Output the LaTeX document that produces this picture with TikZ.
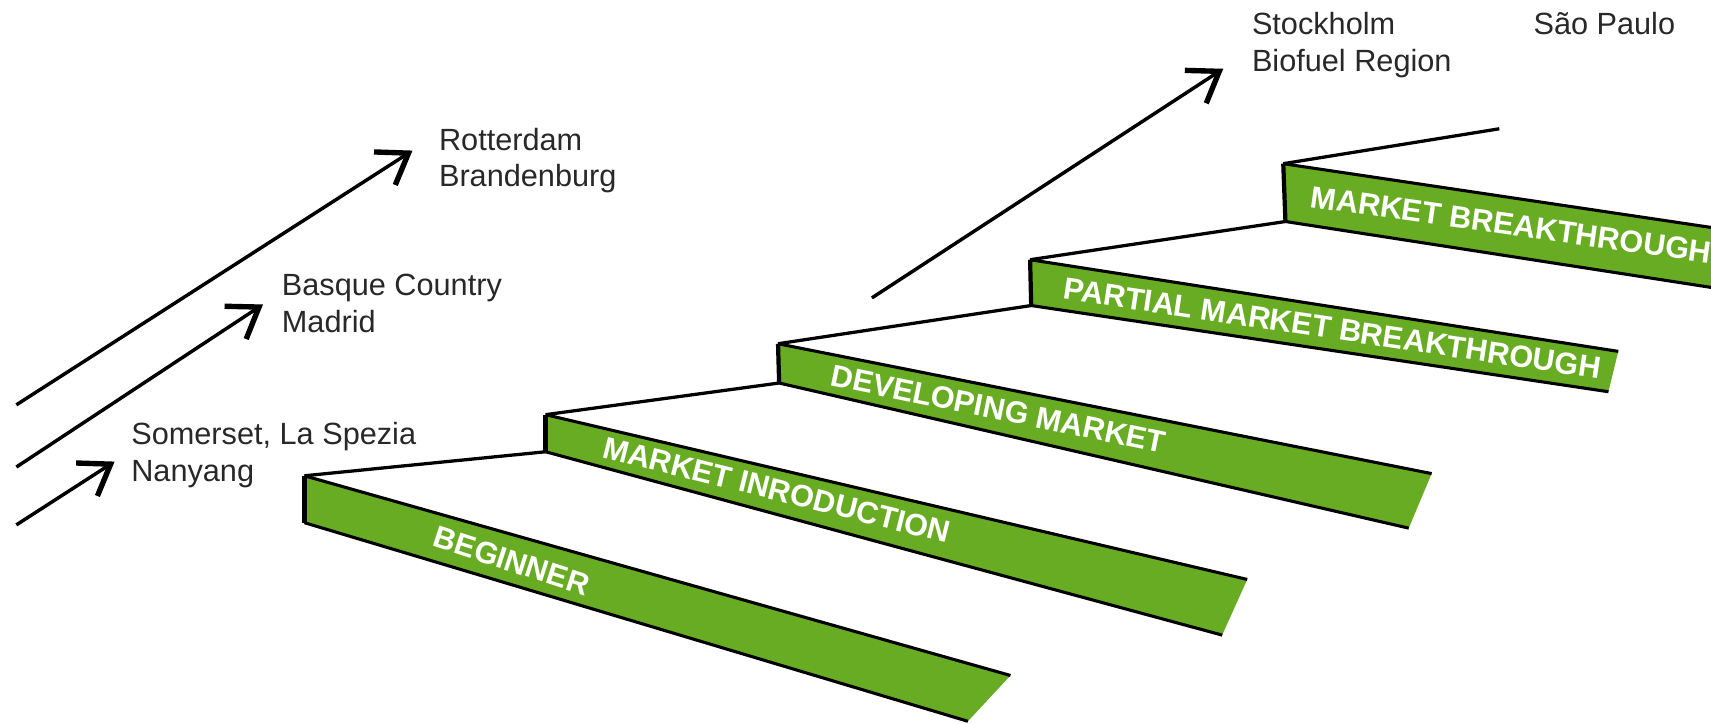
\documentclass[tikz,border=0pt]{standalone}
\usepackage{fontspec}
\setmainfont{Liberation Sans}
\usepackage{tikz}
\usetikzlibrary{arrows.meta}
\definecolor{stepgreen}{RGB}{104,172,36}
\definecolor{placegrey}{RGB}{40,40,40}

\begin{document}
\begin{tikzpicture}[x=0.2mm,y=-0.2mm,
  band/.style={fill=stepgreen},
  edge/.style={line width=1.6pt,black},
  riser/.style={line width=2.2pt,black},
  tread/.style={line width=1.7pt,black},
  steptext/.style={text=white,font=\fontsize{16}{19}\selectfont\bfseries,inner sep=0pt},
  place/.style={text=placegrey,font=\fontsize{16}{19}\selectfont,align=left,anchor=north west,inner sep=0pt},
  arr/.style={line width=1.8pt,-{Straight Barb[length=5.2mm,width=7.2mm,line width=2.8pt]}}]
\useasboundingbox (0,0) rectangle (1568,663);

% corners of the steps
\coordinate (t1) at (279,436);  \coordinate (b1) at (279,479);
\coordinate (tr1) at (926,619); \coordinate (br1) at (887,661);
\coordinate (t2) at (500,380);  \coordinate (b2) at (500,414);
\coordinate (tr2) at (1143,531); \coordinate (br2) at (1120,582);
\coordinate (t3) at (713,315);  \coordinate (b3) at (714,351);
\coordinate (tr3) at (1312,434); \coordinate (br3) at (1291,484);
\coordinate (t4) at (944,238);  \coordinate (b4) at (945,280);
\coordinate (tr4) at (1483,322); \coordinate (br4) at (1474,359);
\coordinate (t5) at (1176,150); \coordinate (b5) at (1178,203);
\coordinate (tr5) at (1572,209); \coordinate (br5) at (1572,264);
\coordinate (top) at (1374,118);

\fill[band] (t1) -- (tr1) -- (br1) -- (b1) -- cycle;
\fill[band] (t2) -- (tr2) -- (br2) -- (b2) -- cycle;
\fill[band] (t3) -- (tr3) -- (br3) -- (b3) -- cycle;
\fill[band] (t4) -- (tr4) -- (br4) -- (b4) -- cycle;
\fill[band] (t5) -- (tr5) -- (br5) -- (b5) -- cycle;

\draw[edge] (t1) -- (tr1) (b1) -- (br1);
\draw[edge] (t2) -- (tr2) (b2) -- (br2);
\draw[edge] (t3) -- (tr3) (b3) -- (br3);
\draw[edge] (t4) -- (tr4) (b4) -- (br4);
\draw[edge] (t5) -- (tr5) (b5) -- (br5);

\draw[riser] (t1) -- (b1);
\draw[riser] (t2) -- (b2);
\draw[riser] (t3) -- (b3);
\draw[riser] (t4) -- (b4);
\draw[riser] (t5) -- (b5);

\draw[tread] (t1) -- (b2);
\draw[tread] (t2) -- (b3);
\draw[tread] (t3) -- (b4);
\draw[tread] (t4) -- (b5);
\draw[tread] (t5) -- (top);

\node[steptext,rotate=-18] (beginner) at (469,514) {BEGINNER};
\node[steptext,rotate=-14] (intro) at (712,449) {MARKET INRODUCTION};
\node[steptext,rotate=-11.5] (developing) at (915,375) {DEVELOPING MARKET};
\node[steptext,rotate=-8.5] (partial) at (1221,301) {PARTIAL MARKET BREAKTHROUGH};
\node[steptext,rotate=-8] (breakthrough) at (1385,206) {MARKET BREAKTHROUGH};

% regions
\node[place] (stockholm) at (1147,11) {Stockholm\\Biofuel Region};
\node[place] (saopaulo) at (1405,11) {São Paulo};
\node[place] (rotterdam) at (402,117) {Rotterdam\\Brandenburg};
\node[place] (basque) at (258,251) {Basque Country\\Madrid};
\node[place] (somerset) at (120,387) {Somerset, La Spezia\\Nanyang};

\coordinate (stockfrom) at (799,273); \coordinate (stockto) at (1121,63);
\coordinate (rottfrom) at (15,371);   \coordinate (rottto) at (378,138);
\coordinate (basqfrom) at (15,428);   \coordinate (basqto) at (241,279);
\coordinate (somefrom) at (15,481);   \coordinate (someto) at (105,423);

\draw[arr] (stockfrom) -- (stockto);
\draw[arr] (rottfrom) -- (rottto);
\draw[arr] (basqfrom) -- (basqto);
\draw[arr] (somefrom) -- (someto);
\end{tikzpicture}
\end{document}
